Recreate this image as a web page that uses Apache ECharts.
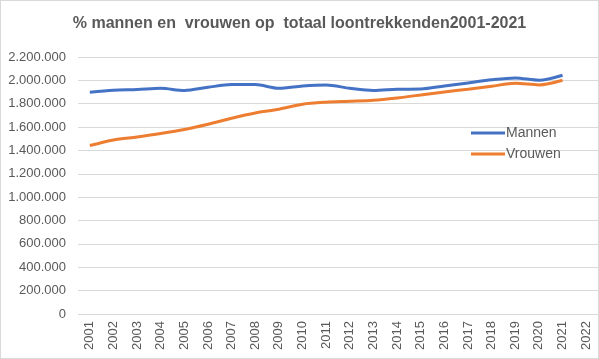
<!DOCTYPE html>
<html><head><meta charset="utf-8">
<script src="https://cdn.jsdelivr.net/npm/echarts@6/dist/echarts.min.js"></script>
<style>html,body{margin:0;padding:0;background:#fff;}#c{width:599px;height:359px;box-sizing:border-box;border:1px solid #d9d9d9;}</style>
</head><body><div id="c"></div>
<script>
const years = ['2001','2002','2003','2004','2005','2006','2007','2008','2009','2010','2011','2012','2013','2014','2015','2016','2017','2018','2019','2020','2021','2022'];
const mannen = [1898000,1915000,1921000,1932000,1913000,1941000,1964000,1964000,1932000,1952000,1961000,1932000,1913000,1924000,1926000,1952000,1978000,2005000,2021000,2001000,2044000];
const vrouwen = [1442000,1490000,1516000,1545000,1579000,1624000,1676000,1721000,1753000,1796000,1813000,1821000,1830000,1850000,1875000,1901000,1924000,1950000,1975000,1961000,2001000];
const yMax = 2200000, yStep = 200000;
const font = 'Liberation Sans, Arial, sans-serif';
const chart = echarts.init(document.getElementById('c'));
chart.setOption({
  animation:false,
  title:{text:'% mannen en  vrouwen op  totaal loontrekkenden2001-2021',left:'center',top:10,
    textStyle:{fontFamily:font,fontSize:16,fontWeight:'bold',color:'#595959'}},
  grid:{left:77,top:56,width:525,height:257,containLabel:false},
  legend:{orient:'vertical',left:465,top:120,itemWidth:34,itemHeight:3,itemGap:7,icon:'rect',
    textStyle:{fontFamily:font,fontSize:14,color:'#595959',padding:[0,0,0,-4]},
    data:['Mannen','Vrouwen']},
  xAxis:{type:'category',data:years,boundaryGap:true,
    axisLine:{show:false},axisTick:{show:false},
    axisLabel:{rotate:90,fontFamily:font,fontSize:13,color:'#595959',margin:7,interval:0}},
  yAxis:{type:'value',min:0,max:yMax,interval:yStep,
    axisLine:{show:false},axisTick:{show:false},
    splitLine:{lineStyle:{color:'#d9d9d9',width:1}},
    axisLabel:{fontFamily:font,fontSize:13,color:'#595959',margin:12,
      formatter:v=>String(v).replace(/\B(?=(\d{3})+(?!\d))/g,'.')}},
  series:[
    {name:'Mannen',type:'line',data:mannen,smooth:0.3,showSymbol:false,symbol:'none',
      lineStyle:{color:'#4472C4',width:3},itemStyle:{color:'#4472C4'}},
    {name:'Vrouwen',type:'line',data:vrouwen,smooth:0.3,showSymbol:false,symbol:'none',
      lineStyle:{color:'#ED7D31',width:3},itemStyle:{color:'#ED7D31'}}
  ]
});
</script></body></html>
